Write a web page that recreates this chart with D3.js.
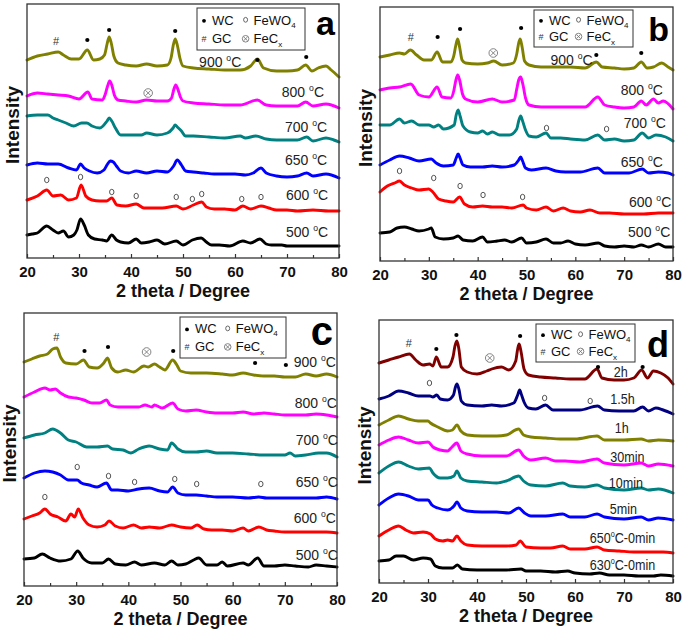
<!DOCTYPE html>
<html>
<head>
<meta charset="utf-8">
<script src="https://cdn.jsdelivr.net/npm/d3@7"></script>
<style>
  body { margin: 0; background: #fff; }
  svg { display: block; }
  text { font-family: "Liberation Sans", Arial, sans-serif; }
</style>
</head>
<body>
<div id="chart"></div>
<script>
//////////// data: [2theta, stacked intensity (a.u.)] ////////////

const xTicks = [20, 30, 40, 50, 60, 70, 80];
const xMinorTicks = [25, 35, 45, 55, 65, 75];

// panel a
const a500 = [[20,23],[21,24],[22,25],[23.8,32],[25,28],[26,25],[27,27],[28,21],[29,23],[29.6,28],[30.3,39],[31,33],[31.8,23],[33,19],[34.5,18],[35.3,17],[36.3,23],[37.2,18],[38,16],[39.5,15],[41,19],[42,15],[43.5,16],[45,18],[46.5,14],[48.7,17],[50,13],[51.8,18],[53.5,20],[54.5,16],[55.5,13],[57,13],[59,12],[61.5,17],[63,15],[64.8,19],[66,14],[67,13],[69,13],[70,12],[72,12],[74,12],[76,12],[78,12],[80,12]];
const a600 = [[20,58],[22,62],[23.8,68],[25,62],[26.5,63],[28,58],[29.5,60],[30.4,73],[31.3,62],[32.5,58],[34,57],[35.3,57],[36.3,60],[37.3,53],[39,52],[41,54],[42.5,50],[44,50],[46,50],[48.7,52],[50,49],[52,53],[53.6,56],[54.5,51],[56,49],[58,49],[60,48],[61.5,52],[63,49],[65,52],[66.5,50],[68,48],[70,48],[72,47],[75,48],[78,47],[80,47]];
const a650 = [[20,93],[22,95],[24,94],[26,94],[28,90],[29.5,88],[30.3,94],[31,90],[32,87],[33.5,85],[34.8,88],[35.5,94],[36,97],[36.6,96],[37.2,92],[38,87],[39.5,85],[41,87],[43,85],[45,87],[47,86],[48.2,92],[48.9,98],[49.7,93],[50.5,87],[52,86],[54,85],[56,84],[58,84],[60,84],[62,83],[63.5,85],[65,90],[66,85],[68,82],[70,81],[72,82],[73.8,85],[75,82],[77.5,84],[80,80]];
const a700 = [[20,142],[22,143],[24,143],[25,140],[26,138],[27.5,135],[29,132],[30.5,135],[31.5,135],[32.5,132],[34,130],[35.4,137],[35.8,140],[36.3,137],[37,130],[38,123],[40,123],[42,123],[43,125],[45,123],[47,125],[48.1,130],[48.5,133],[48.9,131],[49.7,127],[50.5,122],[52,122],[55,121],[58,120],[61,122],[62,120],[64,122],[66,119],[68,118],[70,118],[72,118],[73.8,121],[75,117],[77.5,120],[79,118],[80,116]];
const a800 = [[20,162],[22,165],[24,164],[26,163],[28,162],[30,159],[31.7,166],[32.5,159],[34.5,158],[35,163],[35.5,172],[35.9,177],[36.3,173],[36.8,163],[37.5,158],[39,157],[41,156],[43,158],[45,157],[47,157],[47.8,160],[48.2,168],[48.6,173],[49,169],[49.5,161],[50,157],[52,155],[55,154],[58,153],[61,153],[64.3,158],[66,153],[68,152],[70,152],[72,152],[73.6,156],[75,152],[77.5,154],[80,150]];
const a900 = [[20,198],[22,202],[24,204],[26,206],[27,203],[28.5,199],[30,199],[31.6,208],[32.8,198],[34,199],[34.9,203],[35.4,214],[35.8,221],[36.2,215],[36.7,202],[37.5,195],[39,193],[41,192],[43,194],[45,192],[47,193],[47.7,200],[48.1,212],[48.5,219],[48.9,213],[49.4,200],[50,192],[52,190],[55,189],[58,188],[61,188],[63,192],[64.3,199],[65.5,190],[68,187],[70,187],[72,188],[73.6,193],[74.8,187],[76,190],[77.5,192],[78.5,188],[80,181]];
const aLabels = ["500 °C", "600 °C", "650 °C", "700 °C", "800 °C", "900 °C"];
const aLabelPos = [[69.8,21],[69.8,58],[69.6,93],[69.6,126],[69,161],[53.1,191]];
const aWC = [[31.6,218],[35.8,228],[48.5,227],[64.3,198],[73.7,201]];
const aGC = [[25.6,217]];
const aFeCx = [[43.3,165]];
const aFeWO4 = [[23.8,78],[30.3,81],[36.3,66],[41,62],[48.7,61],[51.8,59],[53.6,64],[61.3,59],[65,61]];

// panel b
const b500 = [[20,28],[22,29],[23.5,33],[25,34],[26.5,32],[28,30],[30,32],[30.5,33],[31.3,24],[33,22],[35,23],[36,25],[37,21],[39,20],[41,24],[42,19],[44,20],[45.5,21],[47,19],[49,23],[50,18],[52,19],[54,22],[55.5,18],[57,18],[58.5,20],[60,17],[62,16],[64.7,18],[66,15],[68,14],[70,15],[72,14],[73.5,16],[75,14],[77,17],[78.5,14],[80,14]];
const b600 = [[20,69],[21.5,75],[23,78],[24,80],[25,76],[26.5,73],[28,71],[30,72],[30.8,69],[32,62],[33.5,60],[35,59],[36.3,64],[37.3,57],[39,54],[41,55],[43,54],[45,54],[47,53],[49.3,56],[50,53],[52,51],[54,54],[55.5,50],[57.5,53],[59,50],[61,49],[63,51],[65,48],[67,48],[70,47],[72,47],[74,47],[77,48],[80,48]];
const b650 = [[20,96],[22,101],[24,105],[26,103],[28,100],[30.5,102],[31.5,98],[33,95],[35,96],[35.6,103],[36,107],[36.4,103],[37,96],[38.5,94],[41,94],[43,95],[45,94],[47.5,96],[48.4,101],[48.8,104],[49.2,100],[49.8,93],[51,91],[54,93],[56,90],[58,89],[61,89],[64.6,93],[66,88],[69,88],[71,88],[73.7,92],[75,88],[77,89],[79,88],[80,86]];
const b700 = [[20,136],[22,136],[24,142],[25,138],[26.5,140],[28,136],[30,136],[31,134],[32,136],[33,132],[35.2,136],[35.6,146],[36,151],[36.4,145],[37,135],[38.5,129],[40,128],[41,130],[42,127],[43,129],[44.5,126],[46.5,126],[48,132],[48.4,140],[48.8,145],[49.2,140],[49.8,131],[50.5,125],[52,124],[54,128],[55,123],[57,123],[59,122],[62,121],[64.6,126],[66,121],[68,122],[70,120],[72,121],[73.7,128],[75,123],[76.5,126],[78.5,124],[80,120]];
const b800 = [[20,171],[22,173],[24,174],[26.3,177],[28,166],[30,164],[31.7,174],[32.7,164],[34.5,163],[35.1,170],[35.5,180],[35.9,186],[36.3,181],[36.9,167],[37.5,162],[40,159],[43,162],[45,159],[47.5,161],[48,172],[48.4,181],[48.8,184],[49.2,178],[49.8,163],[50.5,156],[53,154],[56,154],[59,154],[62,154],[64.6,164],[66,156],[68,154],[70,153],[72,154],[73.5,160],[74.5,156],[76,162],[77,158],[78,160],[80,152]];
const b900 = [[20,204],[22,206],[24,208],[25,207],[26.2,211],[27.5,206],[29,201],[30.5,201],[31.7,209],[32.8,199],[34.5,199],[35.1,205],[35.5,215],[35.9,222],[36.3,214],[36.8,201],[37.5,198],[40,197],[42,198],[43.3,200],[45,196],[47.3,198],[48,207],[48.4,218],[48.7,222],[49.1,214],[49.6,200],[50.5,196],[53,194],[56,194],[59,194],[62,193],[64.3,199],[65.5,194],[68,193],[70,192],[72,193],[73.5,199],[74.7,193],[76,194],[77.7,198],[79,194],[80,191]];
const bLabels = ["500 °C", "600 °C", "650 °C", "700 °C", "800 °C", "900 °C"];
const bLabelPos = [[70.8,24],[71,54],[69.3,94],[69.9,133],[69.3,166],[54.9,196]];
const bWC = [[31.8,224],[36.4,232],[48.9,233],[64.3,206],[73.5,208]];
const bGC = [[26.3,224]];
const bFeCx = [[43.2,208]];
const bFeWO4 = [[54.1,133],[66.4,132],[24,90],[31,83],[36.4,75],[41.1,66],[49.2,64]];

// panel c
const c500 = [[20,27],[22,28],[23.5,32],[25,28],[27,25],[29,27],[30.3,35],[31.3,28],[33,23],[35,23],[36.2,27],[37.5,22],[39.5,21],[41.2,24],[42.5,21],[45,23],[47,21],[48.3,25],[49.5,21],[51,22],[52.5,26],[53.5,28],[55,21],[57,21],[58,24],[59,20],[62,23],[63,21],[64.8,28],[66,20],[68,20],[70,21],[72,20],[74.5,19],[76,21],[78,20],[80,19]];
const c600 = [[20,67],[21.5,70],[23,73],[24,77],[25,72],[26.5,69],[28,65],[29,72],[29.7,69],[30.4,77],[31.3,68],[32.5,61],[34,59],[35.5,61],[36.3,65],[37.5,60],[39,58],[41,61],[42.5,58],[44,59],[46,58],[48.3,61],[50,59],[52,58],[53.2,61],[54.5,57],[56,56],[58,56],[60,55],[62,58],[63,55],[65,59],[66.5,56],[68,55],[70,54],[72,54],[75,54],[78,54],[80,53]];
const c650 = [[20,108],[22,113],[24,115],[25.5,114],[27,111],[28.5,106],[30.2,106],[31,103],[32.5,101],[34,99],[35.8,103],[36.8,96],[38,96],[40,95],[42,97],[44,98],[46,95],[47.5,94],[48.5,99],[49.5,93],[51,91],[53,91],[55,90],[57,89],[60,89],[63,88],[65,89],[66.5,88],[70,88],[73,88],[76,88],[78,89],[80,87]];
const c700 = [[20,148],[22,151],[24,153],[25.5,157],[27,153],[28.5,146],[30,144],[32,139],[34,139],[36,140],[37,137],[39,136],[40.5,133],[42,137],[44,140],[46,137],[47.5,136],[48.3,143],[49.5,137],[51,134],[53,134],[55,135],[57,133],[60,133],[63,132],[66,131],[68,131],[70,131],[71,133],[72,130],[74,131],[76.5,133],[78,133],[80,129]];
const c800 = [[20,189],[22,194],[24,198],[25,196],[26,197],[27,193],[28.5,189],[30,188],[31.5,186],[33,183],[34.5,183],[35.8,186],[36.5,181],[38,179],[40,179],[42,179],[43.2,181],[44.5,179],[45,181],[46.5,178],[48.5,183],[49.5,177],[51,175],[53,176],[55,174],[57,173],[60,173],[62,174],[64,172],[66,173],[68,172],[70,171],[72,171],[74,171],[76,172],[78,171],[80,169]];
const c900 = [[20,224],[21.5,227],[23,230],[24.5,232],[25.5,237],[26.3,238],[27,229],[28,223],[30,222],[31.4,226],[32.5,219],[34,218],[35.3,223],[36,228],[36.8,218],[38,214],[39.5,216],[41,214],[43,220],[43.8,219],[45,222],[46,219],[47,216],[48.5,226],[49.3,221],[50,215],[52,213],[55,213],[58,212],[60,211],[62,213],[64,211],[66,210],[68,210],[70,209],[72,209],[74,212],[76,210],[78,212],[80,209]];
const cLabels = ["500 °C", "600 °C", "650 °C", "700 °C", "800 °C", "900 °C"];
const cLabelPos = [[72.1,26],[71.7,63],[72.1,99],[72.1,141],[71.9,178],[71.7,219]];
const cWC = [[31.6,235],[36.1,239],[48.6,235],[64.3,223],[70.2,221]];
const cGC = [[26.2,249]];
const cFeCx = [[43.5,234]];
const cFeWO4 = [[30.2,119],[36.2,110],[41.2,104],[48.9,107],[53.1,102],[65.4,102],[24,89]];

// panel d
const d630 = [[20,22],[22,23],[23.5,27],[25,27],[27,23],[29,25],[30.5,24],[31.5,17],[33,15],[35,15],[36,18],[37,14],[40,13],[43,13],[46,13],[49,14],[50,12],[53,12],[56,11],[58.5,12],[60,10],[63,9],[65,10],[67,8],[70,8],[73,7],[76,7],[77.5,8],[80,7]];
const d650 = [[20,47],[22,53],[24,57],[25.5,53],[27,50],[29,51],[30.5,49],[31.5,44],[33,42],[34,43],[35,42],[35.9,47],[36.7,42],[38,38],[41,37],[44,37],[46,37],[48,38],[48.8,42],[50,36],[53,35],[55,35],[57.5,37],[59,34],[62,34],[64.5,36],[66,33],[69,32],[72,31],[75,31],[78,31],[80,30]];
const d5min = [[20,78],[22,85],[24,89],[26,87],[28,83],[30,83],[30.8,78],[32,75],[34,73],[35.3,77],[35.9,81],[36.7,75],[38,72],[41,71],[44,71],[46.5,70],[48.5,75],[49.7,70],[51,67],[54,67],[57.5,69],[59,66],[62,66],[64.5,69],[66,66],[70,64],[73.5,66],[75,63],[77,65],[80,63]];
const d10min = [[20,110],[22,117],[24,121],[26,117],[28,114],[30.3,115],[31,110],[32.5,105],[34,105],[35.3,107],[35.9,112],[36.7,105],[38,102],[41,101],[44,100],[46,102],[48.5,107],[49.5,102],[51,98],[54,97],[57.5,100],[59,97],[62,96],[64.5,98],[66,95],[70,93],[73.5,95],[75,93],[77,94],[80,90]];
const d30min = [[20,138],[22,143],[24,146],[26,143],[28,140],[30,141],[31,136],[32.5,133],[34,132],[34.7,135],[35.9,140],[36.7,132],[38,129],[41,127],[44,127],[46,127],[48.5,133],[49.5,127],[51,123],[54,125],[56,122],[58,122],[61,121],[64.5,124],[66,120],[70,118],[73.5,120],[75,117],[77,119],[80,117]];
const d1h = [[20,158],[22,163],[24,167],[26,164],[28,162],[30,162],[30.5,160],[32,156],[34,152],[35,153],[35.9,158],[36.7,152],[38,148],[41,147],[44,147],[46,148],[48.5,154],[49.5,148],[51,146],[54,145],[57,144],[60,144],[64.5,147],[66,143],[70,143],[73.5,144],[75,142],[77,143],[80,142]];
const d15h = [[20,184],[22,187],[24,192],[26,190],[28,187],[30.4,187],[31,186],[31.8,188],[32.5,184],[34,183],[35.2,188],[35.6,196],[35.9,199],[36.3,194],[36.8,182],[38,178],[41,177],[43,178],[45,177],[47.5,180],[48.3,188],[48.7,193],[49.1,188],[49.6,181],[50.5,175],[52,174],[54,178],[55.5,173],[58,173],[61,173],[64.6,177],[66,173],[69,172],[72,172],[73.8,176],[75,172],[76.5,175],[78,173],[80,169]];
const d2h = [[20,220],[22,223],[24,226],[26.2,229],[27.5,223],[29,218],[30.3,219],[31,217],[31.7,226],[32.7,216],[34,216],[35.1,226],[35.5,237],[35.9,242],[36.3,234],[36.8,216],[38,211],[40,209],[42,212],[43,214],[45,216],[46.5,213],[47.9,222],[48.3,234],[48.6,239],[49,231],[49.6,214],[50.5,208],[53,206],[56,205],[59,204],[62,204],[64.5,214],[65.5,205],[68,203],[70,203],[72,205],[73.6,213],[74.8,205],[76,212],[77.5,210],[79,205],[80,199]];
const dLabels = ["630°C-0min", "650°C-0min", "5min", "10min", "30min", "1h", "1.5h", "2h"];
const dLabelPos = [[63,13],[63,40],[67.1,69],[66.9,95],[67.2,121],[68.1,150],[67.2,179],[67.9,206]];
const dWC = [[31.7,234],[35.8,248],[48.8,247],[64.7,216],[73.8,216]];
const dGC = [[26.1,240]];
const dFeCx = [[42.6,225]];
const dFeWO4 = [[30.3,200],[53.8,185],[63.1,182]];

//////////// layout and styles ////////////
const width = 685, height = 633;
const tempColors = ["#000000", "#ff0000", "#0000ff", "#008080", "#ff00ff", "#808000"];
const timeColors = ["#000000", "#ff0000", "#0000ff", "#008080", "#ff00ff", "#808000", "#000080", "#800000"];

const panels = [
  { letter: "a", left: 27, right: 339, top: 4, bottom: 258, series: [a500, a600, a650, a700, a800, a900],
    colors: tempColors, labels: aLabels, labelPos: aLabelPos, wc: aWC, gc: aGC, fecx: aFeCx, fewo: aFeWO4,
    legend: { x: 170, y: 4, w: 108, h: 42 }, letterSize: 34, letterY: 31, narrow: 1 },
  { letter: "b", left: 380, right: 673, top: 7, bottom: 261, series: [b500, b600, b650, b700, b800, b900],
    colors: tempColors, labels: bLabels, labelPos: bLabelPos, wc: bWC, gc: bGC, fecx: bFeCx, fewo: bFeWO4,
    legend: { x: 154, y: 3, w: 99, h: 37 }, letterSize: 34, letterY: 34, narrow: 1 },
  { letter: "c", left: 24, right: 337, top: 313, bottom: 586, series: [c500, c600, c650, c700, c800, c900],
    colors: tempColors, labels: cLabels, labelPos: cLabelPos, wc: cWC, gc: cGC, fecx: cFeCx, fewo: cFeWO4,
    legend: { x: 156, y: 4, w: 106, h: 41 }, letterSize: 40, letterY: 32, narrow: 1 },
  { letter: "d", left: 379, right: 673, top: 320, bottom: 583, series: [d630, d650, d5min, d10min, d30min, d1h, d15h, d2h],
    colors: timeColors, labels: dLabels, labelPos: dLabelPos, wc: dWC, gc: dGC, fecx: dFeCx, fewo: dFeWO4,
    legend: { x: 157, y: 4, w: 99, h: 38 }, letterSize: 36, letterY: 37, narrow: 0.84 }
];

const svg = d3.select("#chart").append("svg")
  .attr("width", width).attr("height", height)
  .style("background", "#fff");

// writes "650 °C" style labels with a raised small "o" for the degree sign
function degreeText(sel, str, size) {
  const parts = str.split("°");
  sel.append("tspan").text(parts[0]);
  if (parts.length > 1) {
    sel.append("tspan").attr("font-size", size * 0.62).attr("dy", -size * 0.42).text("o");
    sel.append("tspan").attr("dy", size * 0.42).text(parts[1]);
  }
}

function drawFeCx(g, x, y, r, col) {
  g.append("circle").attr("cx", x).attr("cy", y).attr("r", r)
    .attr("fill", "none").attr("stroke", col).attr("stroke-width", 0.9);
  const k = r * 0.6;
  g.append("path")
    .attr("d", `M${x - k},${y - k}L${x + k},${y + k}M${x - k},${y + k}L${x + k},${y - k}`)
    .attr("stroke", col).attr("stroke-width", 0.9);
}

panels.forEach((p) => {
  const w = p.right - p.left, h = p.bottom - p.top;
  const g = svg.append("g").attr("transform", `translate(${p.left},${p.top})`);

  const x = d3.scaleLinear().domain([20, 80]).range([0, w]);
  const y = d3.scaleLinear().domain([0, h]).range([h, 0]);

  //draw the patterns
  const line = d3.line()
    .x((d) => x(d[0]))
    .y((d) => y(d[1]))
    .curve(d3.curveMonotoneX);

  g.selectAll("path.pattern")
    .data(p.series)
    .enter()
    .append("path")
    .attr("class", "pattern")
    .attr("d", line)
    .attr("fill", "none")
    .attr("stroke", (d, i) => p.colors[i])
    .attr("stroke-width", 2.9)
    .attr("stroke-linejoin", "round")
    .attr("stroke-linecap", "round");

  //frame
  g.append("rect").attr("width", w).attr("height", h)
    .attr("fill", "none").attr("stroke", "#333").attr("stroke-width", 1.3);

  //x axis, ticks pointing inward
  const xAxis = g.append("g").attr("transform", `translate(0,${h})`)
    .call(d3.axisBottom(x).tickValues(xTicks).tickSize(-4).tickPadding(8).tickFormat(d3.format("d")));
  xAxis.select(".domain").remove();
  xAxis.selectAll("line").attr("stroke", "#333").attr("stroke-width", 1.2);
  xAxis.selectAll("text")
    .attr("font-family", "'Liberation Sans', Arial, sans-serif")
    .attr("font-size", 15).attr("font-weight", "bold").attr("fill", "#111");

  const xMinor = g.append("g").attr("transform", `translate(0,${h})`)
    .call(d3.axisBottom(x).tickValues(xMinorTicks).tickSize(-3).tickFormat(""));
  xMinor.select(".domain").remove();
  xMinor.selectAll("line").attr("stroke", "#333").attr("stroke-width", 1.2);

  //axis titles
  g.append("text")
    .attr("x", w / 2).attr("y", h + 39)
    .attr("text-anchor", "middle")
    .attr("font-size", 18).attr("font-weight", "bold").attr("fill", "#111")
    .text("2 theta / Degree");

  g.append("text")
    .attr("transform", `translate(-8,${h / 2 - 6}) rotate(-90)`)
    .attr("text-anchor", "middle")
    .attr("font-size", 19).attr("font-weight", "bold").attr("fill", "#111")
    .text("Intensity");

  //series labels
  p.labels.forEach((lab, i) => {
    const t = g.append("text")
      .attr("transform", `translate(${x(p.labelPos[i][0])},${y(p.labelPos[i][1])}) scale(${p.narrow},1)`)
      .attr("font-size", p.narrow < 1 ? 15 : 14).attr("fill", "#222");
    degreeText(t, lab, 14);
  });

  //phase markers
  p.wc.forEach((d) => {
    g.append("circle").attr("cx", x(d[0])).attr("cy", y(d[1])).attr("r", 2.1).attr("fill", "#000");
  });
  p.fewo.forEach((d) => {
    g.append("ellipse").attr("cx", x(d[0])).attr("cy", y(d[1])).attr("rx", 2.2).attr("ry", 2.7)
      .attr("fill", "none").attr("stroke", "#444").attr("stroke-width", 0.9);
  });
  p.gc.forEach((d) => {
    g.append("text").attr("x", x(d[0])).attr("y", y(d[1]) + 4)
      .attr("text-anchor", "middle").attr("font-size", 11).attr("fill", "#333").text("#");
  });
  p.fecx.forEach((d) => drawFeCx(g, x(d[0]), y(d[1]), 4.3, "#777"));

  //legend box
  const L = p.legend;
  const lg = g.append("g").attr("transform", `translate(${L.x},${L.y})`);
  lg.append("rect").attr("width", L.w).attr("height", L.h)
    .attr("fill", "#fff").attr("stroke", "#333").attr("stroke-width", 1);
  const r1 = L.h * 0.4, r2 = L.h * 0.84;
  const c2 = L.w * 0.45;
  lg.append("circle").attr("cx", 7).attr("cy", r1 - 4).attr("r", 1.9).attr("fill", "#000");
  lg.append("text").attr("x", 15).attr("y", r1).attr("font-size", 13).attr("fill", "#111").text("WC");
  lg.append("ellipse").attr("cx", c2).attr("cy", r1 - 5).attr("rx", 2).attr("ry", 2.4)
    .attr("fill", "none").attr("stroke", "#444").attr("stroke-width", 0.8);
  const fw = lg.append("text").attr("x", c2 + 8).attr("y", r1).attr("font-size", 13).attr("fill", "#111");
  fw.append("tspan").text("FeWO");
  fw.append("tspan").attr("font-size", 8).attr("dy", 3).text("4");
  lg.append("text").attr("x", 7).attr("y", r2 - 1).attr("text-anchor", "middle")
    .attr("font-size", 9).attr("fill", "#333").text("#");
  lg.append("text").attr("x", 15).attr("y", r2).attr("font-size", 13).attr("fill", "#111").text("GC");
  drawFeCx(lg, c2, r2 - 4.5, 3.3, "#777");
  const fc = lg.append("text").attr("x", c2 + 8).attr("y", r2).attr("font-size", 13).attr("fill", "#111");
  fc.append("tspan").text("FeC");
  fc.append("tspan").attr("font-size", 8).attr("dy", 4).text("x");

  //panel letter
  g.append("text")
    .attr("x", w - 4).attr("y", p.letterY)
    .attr("text-anchor", "end")
    .attr("font-size", p.letterSize).attr("font-weight", "bold").attr("fill", "#000")
    .text(p.letter);
});
</script>
</body>
</html>
